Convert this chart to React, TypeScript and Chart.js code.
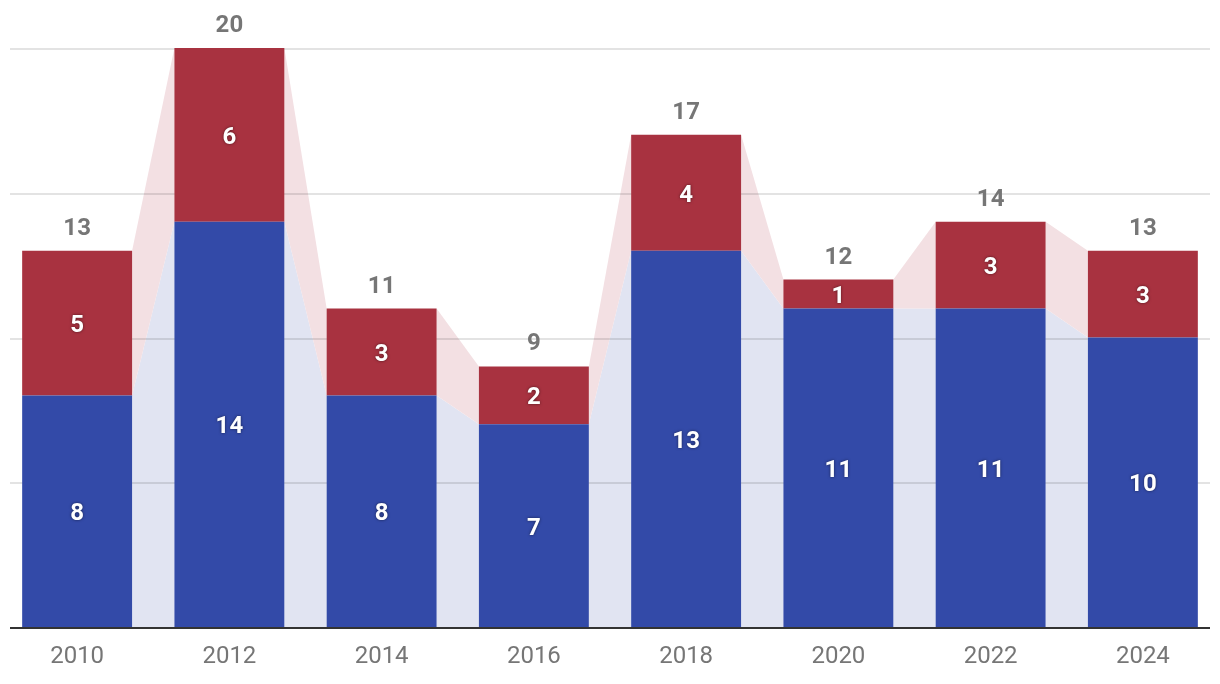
import React, { useEffect, useRef } from "react";
import { Chart, registerables } from "chart.js";

Chart.register(...registerables);

const years = ["2010", "2012", "2014", "2016", "2018", "2020", "2022", "2024"];
const blueValues = [8, 14, 8, 7, 13, 11, 11, 10];
const redValues = [5, 6, 3, 2, 4, 1, 3, 3];
const gridValues = [5, 10, 15, 20];

const BLUE = "#334aa8";
const RED = "#a83240";
const BLUE_AREA = "#e1e4f2";
const RED_AREA = "#f3e0e3";
const GRAY = "#767676";
const FONT = "Roboto, 'Noto Sans', sans-serif";

const areaPlugin = {
  id: "connectAreas",
  beforeDatasetsDraw(chart: any) {
    const ctx = chart.ctx;
    const b = chart.getDatasetMeta(0).data as any[];
    const r = chart.getDatasetMeta(1).data as any[];
    ctx.save();
    for (let i = 0; i < b.length - 1; i++) {
      const x1 = b[i].x + b[i].width / 2;
      const x2 = b[i + 1].x - b[i + 1].width / 2;
      ctx.fillStyle = BLUE_AREA;
      ctx.beginPath();
      ctx.moveTo(x1, b[i].y);
      ctx.lineTo(x2, b[i + 1].y);
      ctx.lineTo(x2, b[i + 1].base);
      ctx.lineTo(x1, b[i].base);
      ctx.closePath();
      ctx.fill();
      ctx.fillStyle = RED_AREA;
      ctx.beginPath();
      ctx.moveTo(x1, r[i].y);
      ctx.lineTo(x2, r[i + 1].y);
      ctx.lineTo(x2, b[i + 1].y);
      ctx.lineTo(x1, b[i].y);
      ctx.closePath();
      ctx.fill();
    }
    const yScale = chart.scales.y;
    ctx.strokeStyle = "rgba(0,0,0,0.11)";
    ctx.lineWidth = 2;
    const left = chart.chartArea.left + 9;
    const right = chart.chartArea.right - 9;
    for (const v of gridValues) {
      const y = Math.round(yScale.getPixelForValue(v)) + 1;
      ctx.beginPath();
      ctx.moveTo(left, y);
      ctx.lineTo(right, y);
      ctx.stroke();
    }
    ctx.restore();
  },
  afterDatasetsDraw(chart: any) {
    const ctx = chart.ctx;
    const b = chart.getDatasetMeta(0).data as any[];
    const r = chart.getDatasetMeta(1).data as any[];
    const left = chart.chartArea.left + 9;
    const right = chart.chartArea.right - 9;
    ctx.save();
    const base = chart.scales.y.getPixelForValue(0);
    ctx.strokeStyle = "#333333";
    ctx.lineWidth = 2;
    ctx.beginPath();
    ctx.moveTo(left, base + 1);
    ctx.lineTo(right, base + 1);
    ctx.stroke();

    ctx.textAlign = "center";
    ctx.textBaseline = "middle";
    ctx.font = `bold 24px ${FONT}`;
    ctx.fillStyle = "#ffffff";
    ctx.shadowColor = "rgba(0,0,0,0.55)";
    ctx.shadowBlur = 3;
    ctx.shadowOffsetX = 0;
    ctx.shadowOffsetY = 0;
    for (let i = 0; i < b.length; i++) {
      ctx.fillText(String(blueValues[i]), b[i].x, (b[i].y + b[i].base) / 2 + 3);
      ctx.fillText(String(redValues[i]), r[i].x, (r[i].y + r[i].base) / 2 + 3);
    }
    ctx.shadowColor = "transparent";
    ctx.shadowBlur = 0;
    ctx.textBaseline = "alphabetic";
    ctx.font = `bold 24px ${FONT}`;
    ctx.fillStyle = GRAY;
    for (let i = 0; i < r.length; i++) {
      ctx.fillText(String(blueValues[i] + redValues[i]), r[i].x, r[i].y - 16);
    }
    ctx.restore();
  },
};

export default function App() {
  const canvasRef = useRef<HTMLCanvasElement | null>(null);

  useEffect(() => {
    const canvas = canvasRef.current;
    if (!canvas) return;
    const chart = new Chart(canvas, {
      type: "bar",
      data: {
        labels: years,
        datasets: [
          {
            label: "Blue",
            data: blueValues,
            backgroundColor: BLUE,
            borderWidth: 0,
            categoryPercentage: 1,
            barPercentage: 0.722,
          },
          {
            label: "Red",
            data: redValues,
            backgroundColor: RED,
            borderWidth: 0,
            categoryPercentage: 1,
            barPercentage: 0.722,
          },
        ],
      },
      options: {
        responsive: false,
        animation: false,
        devicePixelRatio: 1,
        layout: { padding: { left: 1, right: 1, top: 48, bottom: 0 } },
        plugins: {
          legend: { display: false },
          tooltip: { enabled: false },
          title: { display: false },
        },
        scales: {
          x: {
            stacked: true,
            grid: { display: false, drawTicks: false },
            border: { display: false },
            ticks: {
              color: GRAY,
              font: { family: FONT, size: 24 },
              padding: 16,
              maxRotation: 0,
              autoSkip: false,
            },
            afterFit: (scale: any) => {
              scale.height = 57;
            },
          },
          y: {
            stacked: true,
            display: false,
            min: 0,
            max: 20,
            ticks: { stepSize: 5 },
          },
        },
      },
      plugins: [areaPlugin],
    });
    return () => chart.destroy();
  }, []);

  return (
    <div style={{ position: "absolute", left: 0, top: 0, width: 1220, height: 684, background: "#fff" }}>
      <canvas ref={canvasRef} width={1220} height={684} style={{ display: "block" }} />
    </div>
  );
}
